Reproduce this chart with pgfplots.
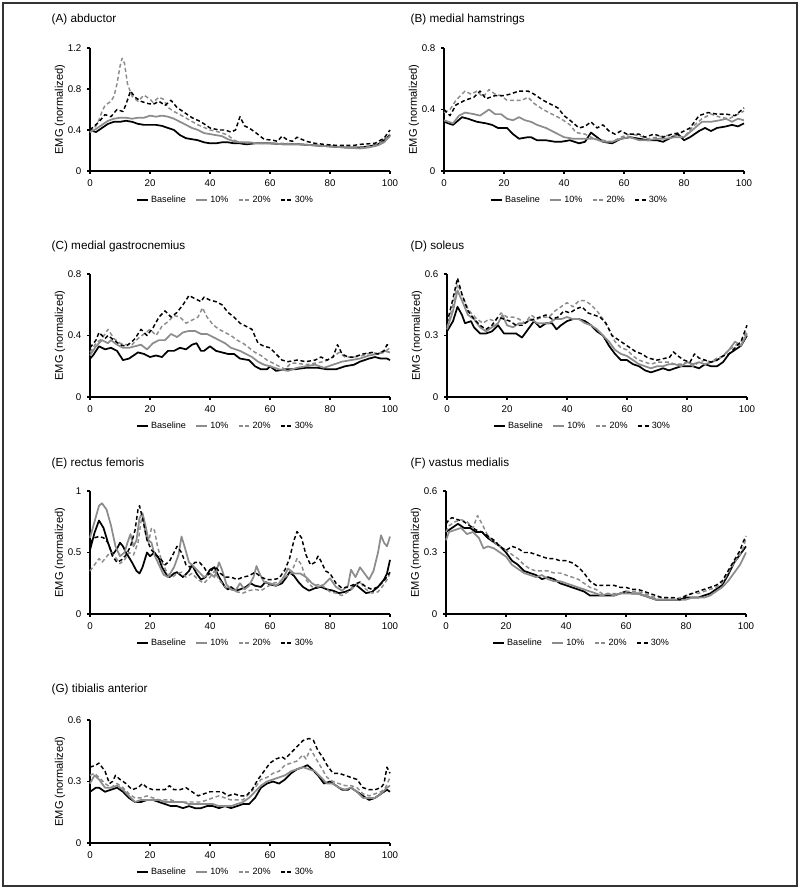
\documentclass[border=0pt]{standalone}
\usepackage{pgfplots}
\pgfplotsset{compat=1.18}
\usepackage{fontspec}
\setmainfont{Liberation Sans}
\definecolor{g10}{HTML}{8C8C8C}
\tikzset{
 sbase/.style={black, line width=1.3pt},
 s10/.style={g10, line width=1.3pt},
 s20/.style={g10, line width=1.1pt, dash pattern=on 3pt off 2pt},
 s30/.style={black, line width=1.1pt, dash pattern=on 3pt off 2pt},
}
\pgfplotsset{
 emg/.style={
  scale only axis, width=225pt, height=92.25pt,
  anchor=south west,
  axis x line=bottom, axis y line=left,
  axis line style={line width=0.9pt, -},
  xmin=0, xmax=100, ymin=0,
  xtick={0,20,...,100},
  tick align=outside, major tick length=2pt,
  tick style={line width=0.8pt, black},
  ticklabel style={font=\fontsize{7.3}{8}\selectfont},
  xticklabel style={yshift=-1pt},
  yticklabel style={xshift=-1pt},
  /pgf/number format/assume math mode=true,
  ylabel={EMG (normalized)},
  ylabel style={at={(axis description cs:-0.1,0.5)}, anchor=center, font=\fontsize{8.3}{9}\selectfont},
  no marks, line join=round,
  legend columns=4,
  legend style={draw=none, fill=none, at={(axis description cs:0.453,-0.236)}, anchor=center,
    font=\fontsize{6.8}{8}\selectfont, inner sep=0pt,
    /tikz/every even column/.append style={column sep=5pt}},
  legend image code/.code={\draw[##1] (0pt,0pt) -- (8pt,0pt);},
  clip=false,
 }
}
\begin{document}
\begin{tikzpicture}
\useasboundingbox (0pt,0pt) rectangle (600pt,-666.75pt);
\begin{scope}[x=0.75pt,y=-0.75pt]
\draw[line width=0.8pt, black!80] (3,3) rectangle (797,886);
\tikzset{ttl/.style={anchor=west, font=\fontsize{8.8}{10}\selectfont}}
\node[ttl] at (47,19) {(A) abductor};
\node[ttl] at (406,19) {(B) medial hamstrings};
\node[ttl] at (47,246) {(C) medial gastrocnemius};
\node[ttl] at (406,246) {(D) soleus};
\node[ttl] at (47,463) {(E) rectus femoris};
\node[ttl] at (406,463) {(F) vastus medialis};
\node[ttl] at (47,689) {(G) tibialis anterior};
\end{scope}

% (A)
\begin{axis}[emg, at={(67.5pt,-128.25pt)}, ymax=1.2, ytick={0,0.4,0.8,1.2}]
\addplot[sbase] coordinates {(0,0.40)(2,0.38)(4,0.42)(6,0.46)(8,0.48)(10,0.48)(12,0.49)(14,0.48)(16,0.46)(18,0.45)(20,0.45)(22,0.45)(24,0.44)(26,0.42)(28,0.40)(30,0.35)(32,0.32)(34,0.31)(36,0.30)(38,0.28)(40,0.27)(42,0.27)(44,0.28)(46,0.28)(48,0.27)(50,0.27)(52,0.26)(55,0.27)(60,0.27)(65,0.26)(70,0.26)(75,0.25)(80,0.24)(85,0.23)(90,0.23)(93,0.24)(96,0.26)(98,0.30)(100,0.35)};
\addplot[s10] coordinates {(0,0.38)(2,0.41)(4,0.45)(6,0.49)(8,0.51)(10,0.52)(12,0.52)(14,0.51)(16,0.52)(18,0.52)(20,0.54)(22,0.53)(24,0.54)(26,0.53)(28,0.51)(30,0.48)(32,0.45)(34,0.42)(36,0.40)(38,0.37)(40,0.36)(42,0.35)(44,0.34)(46,0.31)(48,0.29)(50,0.28)(53,0.28)(56,0.27)(60,0.27)(65,0.26)(70,0.26)(75,0.25)(80,0.24)(85,0.23)(90,0.22)(93,0.23)(96,0.25)(98,0.28)(100,0.34)};
\addplot[s20] coordinates {(0,0.38)(2,0.44)(3,0.50)(4,0.58)(5,0.64)(6,0.66)(7,0.68)(8,0.73)(9,0.85)(10,1.02)(10.7,1.10)(11.5,1.05)(12.5,0.85)(14,0.73)(16,0.68)(18,0.74)(20,0.70)(21,0.67)(23,0.72)(24.5,0.70)(26,0.62)(28,0.58)(30,0.55)(33,0.50)(36,0.45)(40,0.40)(43,0.38)(46,0.35)(48,0.30)(50,0.28)(55,0.27)(60,0.27)(65,0.27)(70,0.26)(75,0.25)(80,0.24)(85,0.24)(90,0.23)(95,0.25)(98,0.29)(100,0.36)};
\addplot[s30] coordinates {(0,0.40)(3,0.48)(5,0.55)(7,0.53)(9,0.60)(11,0.58)(12,0.65)(13.5,0.78)(15,0.72)(17,0.68)(19,0.66)(21,0.65)(23,0.68)(25,0.64)(27,0.69)(29,0.62)(31,0.58)(34,0.52)(37,0.48)(40,0.42)(43,0.40)(45,0.40)(47,0.38)(48.5,0.40)(50,0.53)(51.5,0.44)(53,0.42)(55,0.38)(58,0.31)(61,0.30)(62.5,0.29)(64,0.34)(66,0.30)(67.5,0.29)(69,0.33)(72,0.29)(75,0.27)(78,0.26)(82,0.25)(85,0.25)(88,0.25)(90,0.26)(95,0.27)(98,0.32)(100,0.40)};
\legend{Baseline,10\%,20\%,30\%}
\end{axis}

% (B)
\begin{axis}[emg, at={(333pt,-128.25pt)}, ymax=0.8, ytick={0,0.4,0.8}]
\addplot[sbase] coordinates {(0,0.32)(3,0.30)(6,0.35)(8,0.34)(11,0.32)(14,0.31)(16,0.30)(18,0.28)(21,0.28)(23,0.24)(25,0.21)(28,0.22)(29,0.22)(31,0.20)(34,0.20)(37,0.19)(39,0.19)(42,0.20)(45,0.18)(47,0.19)(49,0.25)(51,0.22)(53,0.19)(56,0.18)(59,0.21)(62,0.22)(65,0.21)(68,0.20)(71,0.20)(73,0.19)(75,0.21)(78,0.24)(80,0.20)(82,0.22)(85,0.26)(87,0.28)(89,0.26)(91,0.28)(94,0.29)(96,0.30)(98,0.29)(100,0.31)};
\addplot[s10] coordinates {(0,0.33)(3,0.31)(5,0.36)(7,0.38)(10,0.37)(12,0.36)(15,0.40)(17,0.37)(19,0.37)(21,0.34)(23,0.33)(25,0.35)(27,0.33)(29,0.32)(31,0.30)(34,0.28)(36,0.26)(38,0.24)(40,0.22)(43,0.21)(46,0.21)(50,0.21)(53,0.19)(56,0.19)(59,0.21)(62,0.22)(65,0.20)(68,0.20)(71,0.21)(74,0.21)(77,0.22)(80,0.22)(83,0.27)(86,0.32)(89,0.32)(92,0.33)(94,0.34)(96,0.32)(98,0.34)(100,0.33)};
\addplot[s20] coordinates {(0,0.38)(2,0.40)(4,0.46)(7,0.52)(9,0.50)(11,0.52)(13,0.48)(15,0.53)(17,0.50)(19,0.49)(21,0.46)(24,0.46)(26,0.46)(28,0.48)(30,0.44)(33,0.40)(35,0.38)(37,0.36)(39,0.34)(42,0.30)(44,0.25)(47,0.24)(50,0.21)(53,0.20)(56,0.19)(59,0.22)(62,0.24)(65,0.23)(68,0.21)(71,0.22)(74,0.23)(77,0.23)(80,0.22)(83,0.29)(86,0.34)(89,0.37)(92,0.35)(95,0.34)(98,0.37)(100,0.39)};
\addplot[s30] coordinates {(0,0.40)(2,0.36)(4,0.43)(7,0.46)(10,0.48)(12,0.52)(14,0.47)(17,0.49)(20,0.49)(22,0.50)(25,0.52)(28,0.52)(30,0.50)(33,0.46)(36,0.43)(38,0.41)(40,0.36)(42,0.33)(45,0.28)(47,0.29)(49,0.32)(51,0.28)(53,0.30)(55,0.26)(57,0.24)(59,0.26)(61,0.24)(63,0.24)(65,0.24)(67,0.22)(70,0.24)(73,0.22)(76,0.24)(79,0.25)(82,0.28)(85,0.36)(88,0.38)(91,0.37)(94,0.37)(97,0.36)(100,0.41)};
\legend{Baseline,10\%,20\%,30\%}
\end{axis}

% (C)
\begin{axis}[emg, at={(67.5pt,-297.75pt)}, ymax=0.8, ytick={0,0.4,0.8}]
\addplot[sbase] coordinates {(0,0.25)(1,0.27)(3,0.33)(5,0.31)(7,0.32)(9,0.30)(11,0.24)(13,0.25)(16,0.29)(18,0.28)(20,0.26)(22,0.27)(24,0.26)(26,0.30)(28,0.30)(30,0.32)(32,0.31)(34,0.34)(35.5,0.35)(37,0.30)(38,0.30)(40,0.33)(42,0.30)(44,0.29)(46,0.28)(48,0.28)(50,0.25)(53,0.24)(55,0.20)(57,0.18)(59,0.18)(60,0.20)(62,0.17)(65,0.18)(68,0.18)(72,0.19)(76,0.19)(79,0.18)(82,0.18)(85,0.20)(88,0.21)(90,0.23)(93,0.25)(95,0.26)(97,0.25)(99,0.25)(100,0.24)};
\addplot[s10] coordinates {(0,0.27)(2,0.33)(4,0.37)(6,0.35)(7,0.37)(9,0.34)(11,0.32)(13,0.32)(15,0.33)(17,0.34)(19,0.31)(21,0.35)(23,0.37)(25,0.37)(27,0.41)(29,0.39)(31,0.42)(33,0.43)(35,0.43)(37,0.41)(39,0.41)(41,0.39)(43,0.37)(45,0.35)(47,0.32)(50,0.30)(52,0.28)(54,0.26)(56,0.23)(58,0.21)(60,0.20)(63,0.18)(66,0.17)(69,0.19)(72,0.20)(75,0.21)(78,0.19)(81,0.21)(84,0.23)(87,0.24)(90,0.25)(93,0.27)(96,0.28)(98,0.30)(100,0.29)};
\addplot[s20] coordinates {(0,0.29)(2,0.35)(4,0.38)(6,0.44)(8,0.38)(10,0.35)(12,0.34)(14,0.34)(16,0.38)(18,0.41)(20,0.44)(22,0.40)(24,0.46)(26,0.49)(28,0.53)(30,0.52)(32,0.48)(34,0.50)(36,0.52)(37.5,0.58)(39,0.52)(41,0.47)(43,0.44)(45,0.42)(47,0.40)(49,0.37)(51,0.35)(53,0.32)(55,0.29)(57,0.27)(59,0.24)(61,0.22)(63,0.20)(65,0.18)(67,0.22)(69,0.22)(72,0.21)(75,0.22)(78,0.23)(81,0.26)(83,0.29)(85,0.26)(88,0.26)(91,0.27)(94,0.29)(96,0.28)(98,0.29)(100,0.32)};
\addplot[s30] coordinates {(0,0.32)(2,0.37)(3,0.42)(5,0.38)(6,0.40)(8,0.37)(10,0.34)(12,0.33)(14,0.36)(15,0.38)(17,0.44)(19,0.40)(21,0.45)(23,0.52)(25,0.56)(27,0.52)(29,0.55)(31,0.60)(33,0.66)(35,0.64)(37,0.62)(38,0.65)(40,0.63)(42,0.62)(44,0.60)(46,0.55)(48,0.52)(50,0.48)(52,0.46)(54,0.44)(56,0.35)(58,0.33)(60,0.32)(62,0.28)(64,0.24)(66,0.23)(69,0.24)(72,0.23)(75,0.24)(77,0.26)(79,0.24)(81,0.26)(82.5,0.34)(84,0.28)(86,0.26)(88,0.26)(91,0.28)(94,0.29)(96,0.28)(98,0.30)(99,0.34)(100,0.33)};
\legend{Baseline,10\%,20\%,30\%}
\end{axis}

% (D)
\begin{axis}[emg, at={(335.25pt,-297.75pt)}, ymax=0.6, ytick={0,0.3,0.6}]
\addplot[sbase] coordinates {(0,0.32)(2,0.37)(3.5,0.44)(5,0.40)(6,0.36)(8,0.37)(9,0.34)(11,0.31)(13,0.31)(15,0.32)(17,0.35)(19,0.31)(21,0.31)(23,0.31)(25,0.29)(27,0.33)(29,0.37)(31,0.34)(33,0.36)(35,0.36)(36.5,0.33)(38,0.35)(40,0.37)(42,0.38)(44,0.38)(46,0.37)(48,0.35)(50,0.32)(52,0.30)(54,0.25)(56,0.21)(58,0.18)(60,0.18)(62,0.16)(64,0.15)(66,0.13)(68,0.12)(70,0.13)(72,0.14)(74,0.13)(76,0.14)(78,0.15)(80,0.15)(82,0.15)(84,0.14)(86,0.16)(88,0.15)(90,0.15)(92,0.17)(94,0.21)(96,0.23)(98,0.25)(100,0.30)};
\addplot[s10] coordinates {(0,0.33)(2,0.42)(3.5,0.52)(5,0.47)(7,0.40)(9,0.38)(11,0.34)(13,0.32)(15,0.34)(17,0.36)(18.5,0.40)(20,0.35)(22,0.34)(24,0.36)(26,0.36)(28,0.38)(30,0.36)(32,0.36)(34,0.36)(36,0.38)(38,0.38)(40,0.39)(42,0.38)(44,0.38)(46,0.36)(48,0.35)(50,0.33)(52,0.30)(54,0.27)(56,0.23)(58,0.21)(60,0.20)(62,0.18)(64,0.16)(66,0.15)(68,0.14)(70,0.15)(72,0.15)(74,0.16)(76,0.16)(78,0.15)(80,0.17)(82,0.16)(84,0.17)(86,0.16)(88,0.17)(90,0.18)(92,0.20)(94,0.23)(96,0.27)(98,0.25)(100,0.31)};
\addplot[s20] coordinates {(0,0.34)(2,0.45)(3.5,0.55)(5,0.50)(7,0.43)(8,0.41)(10,0.38)(12,0.36)(14,0.38)(16,0.37)(18,0.41)(20,0.39)(22,0.39)(24,0.38)(26,0.36)(28,0.40)(30,0.38)(32,0.39)(34,0.39)(36,0.42)(38,0.44)(40,0.46)(42,0.44)(44,0.47)(46,0.47)(48,0.45)(50,0.42)(52,0.38)(54,0.33)(56,0.27)(58,0.24)(60,0.23)(62,0.20)(64,0.18)(66,0.17)(68,0.16)(70,0.17)(72,0.17)(74,0.17)(76,0.16)(78,0.16)(80,0.17)(82,0.15)(84,0.17)(86,0.18)(88,0.17)(90,0.19)(92,0.20)(94,0.23)(96,0.25)(98,0.27)(100,0.32)};
\addplot[s30] coordinates {(0,0.36)(2,0.48)(3.5,0.58)(5,0.50)(7,0.42)(9,0.38)(11,0.35)(13,0.33)(15,0.35)(17,0.39)(19,0.38)(21,0.37)(23,0.35)(25,0.35)(27,0.37)(29,0.38)(31,0.39)(33,0.40)(35,0.38)(37,0.39)(39,0.42)(41,0.41)(43,0.43)(45,0.44)(47,0.41)(49,0.40)(51,0.39)(53,0.36)(55,0.30)(57,0.28)(59,0.26)(61,0.24)(63,0.22)(65,0.21)(67,0.19)(70,0.18)(73,0.19)(74,0.19)(75.5,0.22)(77,0.20)(79,0.18)(81,0.17)(82.5,0.21)(84,0.19)(86,0.18)(88,0.17)(90,0.18)(92,0.20)(94,0.21)(96,0.24)(98,0.27)(100,0.35)};
\legend{Baseline,10\%,20\%,30\%}
\end{axis}

% (E)
\begin{axis}[emg, at={(67.5pt,-460.5pt)}, ymax=1, ytick={0,0.5,1}]
\addplot[sbase] coordinates {(0,0.52)(1.5,0.66)(3,0.76)(4.5,0.70)(6,0.58)(7.5,0.48)(9,0.53)(10,0.58)(11,0.55)(12,0.50)(14,0.42)(15.5,0.35)(16.5,0.33)(17.5,0.38)(19,0.50)(20,0.47)(21.5,0.50)(23,0.45)(24,0.38)(25.5,0.32)(26.5,0.30)(28,0.33)(29,0.34)(31,0.30)(33,0.35)(34,0.40)(35.5,0.33)(37,0.28)(38.5,0.30)(40,0.36)(41.5,0.38)(43,0.30)(45,0.22)(46,0.20)(47,0.22)(48.5,0.19)(50,0.20)(52,0.22)(53.5,0.25)(55,0.23)(57,0.22)(58.5,0.26)(60,0.24)(62,0.23)(64,0.25)(65.5,0.30)(66.5,0.34)(68,0.31)(69.5,0.26)(71,0.22)(73,0.19)(75,0.21)(77,0.22)(79,0.20)(81,0.19)(83,0.17)(85,0.18)(87,0.20)(88.5,0.24)(90,0.21)(92,0.17)(94,0.18)(96,0.22)(98,0.28)(99,0.33)(100,0.44)};
\addplot[s10] coordinates {(0,0.62)(1.5,0.75)(3,0.88)(4,0.90)(5.5,0.85)(7,0.72)(8.5,0.55)(10,0.47)(11.5,0.50)(12.5,0.58)(13.5,0.65)(14.5,0.55)(15.5,0.60)(16.5,0.78)(17.5,0.82)(18.5,0.72)(19.5,0.60)(20.5,0.58)(21.5,0.48)(23,0.40)(24.5,0.32)(26,0.30)(28,0.38)(29.5,0.48)(30.5,0.63)(31.5,0.55)(33,0.42)(34,0.40)(36,0.35)(38,0.30)(40,0.33)(41.5,0.30)(43,0.42)(44,0.36)(45.5,0.24)(47,0.20)(48.5,0.19)(50,0.25)(51.5,0.20)(53,0.23)(54.5,0.30)(55.5,0.39)(56.5,0.33)(58,0.26)(60,0.25)(62,0.23)(63.5,0.26)(65,0.32)(66,0.37)(68,0.33)(70,0.33)(72,0.30)(74,0.25)(76,0.22)(78,0.24)(80,0.29)(82,0.22)(84,0.19)(86,0.23)(87,0.36)(88.5,0.30)(90,0.38)(91.5,0.33)(93,0.28)(94.5,0.35)(96,0.50)(97,0.64)(98,0.58)(99,0.55)(100,0.63)};
\addplot[s20] coordinates {(0,0.35)(1.5,0.40)(3,0.45)(4,0.42)(6,0.48)(7,0.50)(8.5,0.46)(10,0.41)(11.5,0.44)(13,0.50)(14.5,0.48)(16,0.58)(17,0.75)(17.5,0.80)(18.5,0.65)(19.5,0.58)(20.5,0.70)(21.5,0.68)(22.5,0.55)(24,0.42)(26,0.32)(27.5,0.30)(29,0.33)(30.5,0.34)(32,0.30)(34,0.33)(36,0.28)(38,0.25)(40,0.30)(41.5,0.35)(43,0.28)(45,0.22)(47,0.20)(49,0.18)(51,0.17)(53,0.19)(55,0.20)(57,0.19)(59,0.22)(61,0.25)(63,0.26)(65,0.30)(67,0.33)(69,0.45)(70.5,0.40)(72,0.28)(74,0.22)(76,0.24)(78,0.22)(80,0.18)(82,0.17)(84,0.15)(86,0.18)(88,0.22)(90,0.26)(92,0.20)(94,0.17)(96,0.18)(98,0.24)(99.5,0.30)(100,0.34)};
\addplot[s30] coordinates {(0,0.58)(1.5,0.62)(3,0.63)(4.5,0.62)(6,0.58)(7.5,0.47)(9,0.42)(10.5,0.44)(12,0.48)(13.5,0.55)(15,0.68)(16,0.85)(16.5,0.88)(17.5,0.78)(19,0.60)(20.5,0.52)(22,0.48)(23.5,0.45)(25,0.40)(26.5,0.43)(28,0.50)(29,0.55)(30.5,0.50)(32,0.40)(33.5,0.38)(35,0.42)(36.5,0.42)(38,0.38)(39.5,0.32)(41,0.37)(42,0.38)(43.5,0.33)(45,0.30)(47,0.30)(49,0.28)(51,0.30)(53,0.31)(55,0.34)(57,0.30)(59,0.28)(61,0.28)(63,0.29)(65,0.36)(66.5,0.45)(68,0.60)(69,0.67)(70.5,0.62)(72,0.48)(73.5,0.40)(75,0.42)(76,0.47)(77,0.43)(78.5,0.35)(80,0.33)(82,0.25)(84,0.21)(86,0.22)(88,0.24)(90,0.26)(92,0.22)(94,0.20)(96,0.22)(98,0.27)(100,0.34)};
\legend{Baseline,10\%,20\%,30\%}
\end{axis}

% (F)
\begin{axis}[emg, at={(334.5pt,-460.5pt)}, ymax=0.6, ytick={0,0.3,0.6}]
\addplot[sbase] coordinates {(0,0.40)(1,0.41)(3,0.43)(4,0.44)(6,0.42)(8,0.42)(10,0.40)(12,0.40)(14,0.37)(16,0.35)(18,0.33)(20,0.30)(22,0.26)(24,0.24)(26,0.21)(28,0.20)(30,0.19)(32,0.17)(34,0.18)(36,0.17)(38,0.15)(40,0.14)(42,0.13)(44,0.12)(46,0.11)(48,0.09)(50,0.09)(52,0.09)(54,0.09)(56,0.09)(58,0.10)(60,0.11)(62,0.10)(64,0.10)(66,0.09)(68,0.08)(70,0.07)(72,0.07)(74,0.07)(76,0.07)(78,0.07)(80,0.08)(82,0.08)(84,0.08)(86,0.09)(88,0.10)(90,0.12)(92,0.14)(94,0.19)(96,0.25)(98,0.29)(99,0.31)(100,0.33)};
\addplot[s10] coordinates {(0,0.36)(1,0.40)(3,0.41)(5,0.42)(7,0.39)(9,0.40)(11,0.37)(12.5,0.32)(14,0.33)(16,0.32)(18,0.30)(20,0.28)(22,0.24)(24,0.22)(26,0.20)(28,0.19)(30,0.18)(32,0.19)(34,0.17)(36,0.16)(38,0.16)(40,0.15)(42,0.14)(44,0.13)(46,0.12)(48,0.11)(50,0.10)(52,0.09)(54,0.10)(56,0.09)(58,0.10)(60,0.10)(62,0.10)(64,0.10)(66,0.09)(68,0.08)(70,0.07)(72,0.07)(74,0.07)(76,0.07)(78,0.07)(80,0.07)(82,0.08)(84,0.08)(86,0.08)(88,0.09)(90,0.11)(92,0.13)(94,0.16)(96,0.20)(98,0.24)(99,0.27)(100,0.30)};
\addplot[s20] coordinates {(0,0.40)(1,0.43)(3,0.45)(5,0.46)(7,0.45)(9,0.42)(10.5,0.48)(12,0.44)(14,0.38)(16,0.35)(18,0.33)(20,0.31)(22,0.29)(24,0.27)(26,0.24)(28,0.22)(30,0.21)(32,0.21)(34,0.21)(36,0.20)(38,0.20)(40,0.19)(42,0.18)(44,0.17)(46,0.15)(48,0.13)(50,0.12)(52,0.10)(54,0.10)(56,0.10)(58,0.10)(60,0.11)(62,0.11)(64,0.11)(66,0.10)(68,0.09)(70,0.08)(72,0.08)(74,0.08)(76,0.07)(78,0.08)(80,0.09)(82,0.10)(84,0.10)(86,0.11)(88,0.12)(90,0.13)(92,0.15)(94,0.20)(96,0.25)(98,0.29)(99,0.32)(100,0.37)};
\addplot[s30] coordinates {(0,0.44)(1,0.46)(2,0.47)(4,0.46)(6,0.45)(8,0.43)(10,0.41)(12,0.40)(14,0.38)(16,0.36)(18,0.33)(20,0.31)(22,0.33)(24,0.32)(26,0.30)(28,0.30)(30,0.29)(32,0.28)(34,0.27)(36,0.27)(38,0.26)(40,0.26)(42,0.25)(44,0.23)(46,0.20)(48,0.16)(50,0.14)(52,0.14)(54,0.14)(56,0.14)(58,0.13)(60,0.13)(62,0.12)(64,0.12)(66,0.11)(68,0.10)(70,0.09)(72,0.08)(74,0.08)(76,0.08)(78,0.07)(80,0.09)(82,0.10)(84,0.11)(86,0.12)(88,0.13)(90,0.14)(92,0.16)(94,0.21)(96,0.26)(98,0.31)(99,0.35)(100,0.38)};
\legend{Baseline,10\%,20\%,30\%}
\end{axis}

% (G)
\begin{axis}[emg, at={(67.5pt,-632.25pt)}, ymax=0.6, ytick={0,0.3,0.6}]
\addplot[sbase] coordinates {(0,0.25)(2,0.27)(3,0.27)(5,0.25)(7,0.26)(9,0.27)(11,0.25)(13,0.22)(15,0.20)(17,0.20)(19,0.21)(21,0.21)(23,0.20)(25,0.19)(27,0.18)(29,0.18)(31,0.17)(33,0.18)(35,0.17)(37,0.17)(39,0.18)(41,0.18)(43,0.17)(45,0.18)(47,0.17)(49,0.18)(51,0.19)(53,0.19)(55,0.22)(57,0.27)(59,0.29)(61,0.30)(63,0.29)(65,0.31)(67,0.34)(69,0.36)(71,0.37)(72.5,0.38)(74,0.36)(76,0.33)(78,0.29)(80,0.30)(82,0.28)(84,0.26)(86,0.26)(87,0.27)(89,0.25)(91,0.23)(93,0.21)(95,0.22)(97,0.24)(99,0.26)(100,0.25)};
\addplot[s10] coordinates {(0,0.29)(1.5,0.33)(3,0.31)(5,0.27)(7,0.27)(9,0.28)(11,0.26)(13,0.23)(15,0.20)(17,0.21)(19,0.21)(21,0.21)(23,0.21)(25,0.20)(27,0.20)(29,0.20)(31,0.20)(33,0.19)(35,0.19)(37,0.19)(39,0.19)(41,0.19)(43,0.18)(45,0.18)(47,0.18)(49,0.19)(51,0.20)(53,0.22)(55,0.25)(57,0.28)(59,0.30)(61,0.31)(63,0.32)(65,0.33)(67,0.35)(69,0.36)(71,0.37)(73,0.36)(75,0.35)(77,0.32)(79,0.29)(81,0.29)(83,0.27)(85,0.26)(87,0.27)(89,0.25)(91,0.22)(93,0.22)(95,0.22)(97,0.24)(99,0.27)(100,0.28)};
\addplot[s20] coordinates {(0,0.33)(1.5,0.34)(3,0.32)(5,0.29)(7,0.27)(9,0.29)(11,0.27)(13,0.24)(15,0.22)(17,0.22)(19,0.23)(21,0.22)(23,0.21)(25,0.21)(27,0.21)(29,0.20)(31,0.20)(33,0.20)(35,0.20)(37,0.20)(39,0.21)(41,0.22)(43,0.23)(45,0.22)(47,0.21)(49,0.21)(51,0.21)(53,0.24)(55,0.27)(57,0.31)(59,0.32)(61,0.34)(63,0.35)(65,0.38)(67,0.39)(69,0.40)(71,0.43)(72,0.41)(73.5,0.46)(75,0.42)(77,0.37)(79,0.32)(81,0.30)(83,0.29)(85,0.28)(87,0.28)(89,0.27)(91,0.24)(93,0.23)(95,0.24)(97,0.25)(98.5,0.27)(100,0.32)};
\addplot[s30] coordinates {(0,0.37)(2,0.38)(3,0.39)(5,0.35)(6.5,0.29)(7.5,0.30)(8.5,0.33)(10,0.31)(12,0.29)(14,0.26)(16,0.27)(17.5,0.29)(19,0.27)(21,0.26)(23,0.26)(25,0.26)(26.5,0.28)(28,0.26)(30,0.26)(32,0.27)(34,0.25)(36,0.23)(38,0.24)(40,0.25)(42,0.25)(44,0.25)(46,0.23)(48,0.24)(50,0.23)(52,0.23)(54,0.26)(56,0.31)(58,0.35)(60,0.39)(62,0.41)(64,0.42)(65,0.41)(67,0.44)(69,0.47)(71,0.50)(73,0.51)(74.5,0.50)(76,0.45)(77.5,0.42)(79,0.38)(81,0.34)(83,0.34)(85,0.33)(87,0.32)(89,0.31)(91,0.27)(93,0.26)(95,0.26)(97,0.27)(98,0.29)(99,0.37)(100,0.34)};
\legend{Baseline,10\%,20\%,30\%}
\end{axis}
\end{tikzpicture}
\end{document}
